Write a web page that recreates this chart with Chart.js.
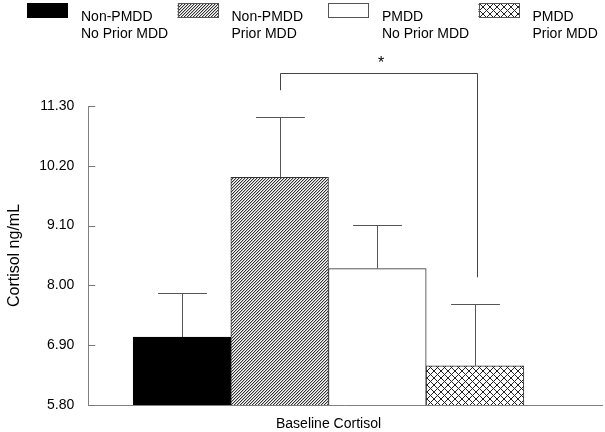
<!DOCTYPE html>
<html>
<head>
<meta charset="utf-8">
<script src="https://cdn.jsdelivr.net/npm/chart.js@4.4.0/dist/chart.umd.min.js"></script>
<style>
  html, body { margin: 0; padding: 0; background: #fff; }
</style>
</head>
<body>
<canvas id="cortisolChart" width="605" height="432"></canvas>
<script>
// groups (legend text split in two lines, like the original figure)
const groupLines = [
  ['Non-PMDD', 'No Prior MDD'],
  ['Non-PMDD', 'Prior MDD'],
  ['PMDD', 'No Prior MDD'],
  ['PMDD', 'Prior MDD']
];
const groupPos = [1, 2, 3, 4];
const meanCortisol = [7.05, 9.99, 8.31, 6.52];
const semCortisol = [0.81, 1.10, 0.80, 1.14];
const yTicks = [5.80, 6.90, 8.00, 9.10, 10.20, 11.30];
const xLabel = 'Baseline Cortisol';
const yLabel = 'Cortisol ng/mL';

// significance bracket between group 2 and group 4
const sigPair = [1, 3];
const sigLevel = 11.91;
const sigLegEnds = [11.59, 8.15];
const sigMark = '*';

const FONT = "'Liberation Sans', Arial, Helvetica, sans-serif";
Chart.defaults.font.family = FONT;
Chart.defaults.color = '#000';

function makePattern(size, paint) {
  const c = document.createElement('canvas');
  c.width = c.height = size;
  const g = c.getContext('2d');
  g.fillStyle = '#fff';
  g.fillRect(0, 0, size, size);
  paint(g, size);
  return g.createPattern(c, 'repeat');
}

const hatch = makePattern(3, (g, n) => {
  for (let i = 0; i < n; i++) {
    g.fillStyle = '#333';
    g.fillRect(n - 1 - i, i, 1, 1);
    g.fillStyle = '#bbb';
    g.fillRect((n - i) % n, i, 1, 1);
  }
});

const cross = makePattern(7, (g, n) => {
  g.fillStyle = '#222';
  for (let i = 0; i < n; i++) {
    g.fillRect(i, i, 1, 1);
    g.fillRect(n - 1 - i, i, 1, 1);
  }
});

const fills = ['#000', hatch, '#fff', cross];
const borders = ['#000', '#333', '#333', '#333'];

// error bars, inward y ticks, significance bracket and the legend
const extras = {
  id: 'extras',
  afterDatasetsDraw(chart) {
    const { ctx, chartArea, scales: { y } } = chart;
    const bars = chart.getDatasetMeta(0).data;
    ctx.save();
    ctx.lineWidth = 1;

    ctx.strokeStyle = '#555';
    bars.forEach((bar, i) => {
      const cx = Math.round(bar.x) + 0.5;
      const top = y.getPixelForValue(meanCortisol[i]);
      const end = Math.round(y.getPixelForValue(meanCortisol[i] + semCortisol[i])) + 0.5;
      const half = bar.width / 4;
      ctx.beginPath();
      ctx.moveTo(cx, top);
      ctx.lineTo(cx, end);
      ctx.moveTo(cx - half, end);
      ctx.lineTo(cx + half, end);
      ctx.stroke();
    });

    // tick marks point into the plot
    ctx.strokeStyle = '#777';
    y.ticks.forEach(t => {
      const py = Math.round(y.getPixelForValue(t.value)) + 0.5;
      ctx.beginPath();
      ctx.moveTo(chartArea.left, py);
      ctx.lineTo(chartArea.left + 7, py);
      ctx.stroke();
    });

    // bracket
    const xa = Math.round(bars[sigPair[0]].x) + 0.5;
    const xb = Math.round(bars[sigPair[1]].x) + 2.5;
    const yb = Math.round(y.getPixelForValue(sigLevel)) + 0.5;
    ctx.strokeStyle = '#444';
    ctx.beginPath();
    ctx.moveTo(xa, y.getPixelForValue(sigLegEnds[0]));
    ctx.lineTo(xa, yb);
    ctx.lineTo(xb, yb);
    ctx.lineTo(xb, y.getPixelForValue(sigLegEnds[1]));
    ctx.stroke();
    ctx.fillStyle = '#000';
    ctx.font = '16px ' + FONT;
    ctx.textAlign = 'center';
    ctx.textBaseline = 'alphabetic';
    ctx.fillText(sigMark, (xa + xb) / 2 + 2, yb - 6);

    // legend
    ctx.font = '14px ' + FONT;
    ctx.textAlign = 'left';
    groupLines.forEach((lines, i) => {
      const bx = 27 + i * 150.5;
      ctx.fillStyle = fills[i];
      ctx.fillRect(bx, 3, 41, 15);
      if (i > 0) {
        ctx.strokeStyle = '#555';
        ctx.strokeRect(Math.round(bx) + 0.5, 3.5, 40, 14);
      }
      ctx.fillStyle = '#000';
      lines.forEach((s, j) => ctx.fillText(s, bx + 54, 21 + j * 17));
    });
    ctx.restore();
  }
};

new Chart(document.getElementById('cortisolChart'), {
  type: 'bar',
  data: {
    datasets: [{
      data: groupPos.map((p, i) => ({ x: p, y: meanCortisol[i] })),
      backgroundColor: fills,
      borderColor: borders,
      borderWidth: 1,
      borderSkipped: 'start',
      base: yTicks[0],
      barPercentage: 1,
      categoryPercentage: 1
    }]
  },
  options: {
    responsive: false,
    animation: false,
    layout: { padding: { top: 106, right: 3, left: 0, bottom: 0 } },
    plugins: { legend: { display: false }, tooltip: { enabled: false } },
    scales: {
      x: {
        type: 'linear',
        offset: false,
        min: 0.04,
        max: 5.3,
        grid: { display: false, drawTicks: false, offset: false },
        border: { display: true, color: '#808080' },
        afterBuildTicks: s => {
          s.ticks = [{ value: (groupPos[0] + groupPos[groupPos.length - 1]) / 2 }];
        },
        afterFit: s => { s.height = 27; },
        ticks: {
          callback: () => xLabel,
          font: { size: 14 },
          padding: 11,
          maxRotation: 0,
          autoSkip: false
        }
      },
      y: {
        min: yTicks[0],
        max: yTicks[yTicks.length - 1],
        grid: { display: false, drawTicks: false },
        border: { display: true, color: '#808080' },
        afterBuildTicks: s => {
          s.ticks = yTicks.map(v => ({ value: v }));
        },
        ticks: {
          callback: v => v.toFixed(2),
          font: { size: 14 },
          padding: 14
        },
        title: {
          display: true,
          text: yLabel,
          font: { size: 16 },
          padding: { top: 5, bottom: 1 }
        }
      }
    }
  },
  plugins: [extras]
});
</script>
</body>
</html>
